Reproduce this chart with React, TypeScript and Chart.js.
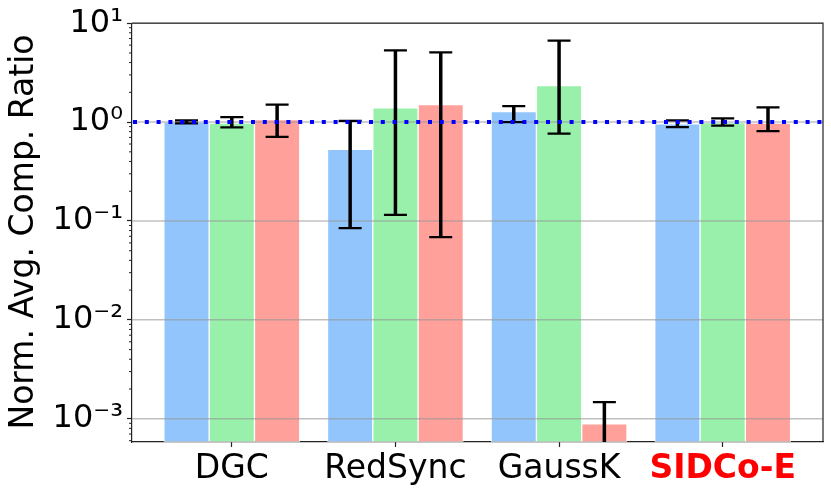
import { useEffect, useRef } from "react";
import { Chart, registerables } from "chart.js";

Chart.register(...registerables);

const categories = ["DGC", "RedSync", "GaussK", "SIDCo-E"];
const seriesLabels = ["Run 1", "Run 2", "Run 3"];
const seriesColors = ["#93c5fd", "#99f0aa", "#ffa09b"];

const blueValues = [1.0, 0.53, 1.28, 0.96];
const blueLow = [0.97, 0.0845, 1.0, 0.89];
const blueHigh = [1.04, 1.03, 1.45, 1.04];

const greenValues = [0.98, 1.39, 2.34, 0.99];
const greenLow = [0.885, 0.115, 0.763, 0.92];
const greenHigh = [1.12, 5.3, 6.68, 1.09];

const redValues = [1.06, 1.5, 0.00089, 0.98];
const redLow = [0.71, 0.0686, 0.0001, 0.81];
const redHigh = [1.5, 5.06, 0.00147, 1.41];

const yTickValues = [1e-3, 1e-2, 1e-1, 1, 10];
const referenceLine = 1;

const FONT = "'DejaVu Sans', sans-serif";
const SUP: Record<string, string> = {
  "-": "\u207b",
  "0": "\u2070",
  "1": "\u00b9",
  "2": "\u00b2",
  "3": "\u00b3",
  "4": "\u2074",
  "5": "\u2075",
};

function powLabel(v: number) {
  const e = Math.round(Math.log10(v));
  return "10" + String(e).split("").map((c) => SUP[c] ?? c).join("");
}

const overlay = {
  id: "overlay",
  afterDatasetsDraw(chart: any) {
    const { ctx, chartArea: a, scales } = chart;
    const y = scales.y;
    ctx.save();
    ctx.beginPath();
    ctx.rect(a.left, a.top, a.right - a.left, a.bottom - a.top);
    ctx.clip();

    // grid over bars
    ctx.strokeStyle = "rgba(150,150,150,0.6)";
    ctx.lineWidth = 1.5;
    yTickValues.forEach((v) => {
      const py = y.getPixelForValue(v);
      ctx.beginPath();
      ctx.moveTo(a.left, py);
      ctx.lineTo(a.right, py);
      ctx.stroke();
    });

    // error bars
    const lows = [blueLow, greenLow, redLow];
    const highs = [blueHigh, greenHigh, redHigh];
    ctx.strokeStyle = "#000";
    chart.data.datasets.forEach((_: any, i: number) => {
      const meta = chart.getDatasetMeta(i);
      meta.data.forEach((el: any, j: number) => {
        const yl = y.getPixelForValue(lows[i][j]);
        const yh = y.getPixelForValue(highs[i][j]);
        ctx.lineWidth = 3.5;
        ctx.beginPath();
        ctx.moveTo(el.x, yl);
        ctx.lineTo(el.x, yh);
        ctx.stroke();
        ctx.lineWidth = 2.2;
        [yl, yh].forEach((py) => {
          ctx.beginPath();
          ctx.moveTo(el.x - 11.5, py);
          ctx.lineTo(el.x + 11.5, py);
          ctx.stroke();
        });
      });
    });

    // dotted reference line
    const ry = y.getPixelForValue(referenceLine);
    ctx.strokeStyle = "#0000ff";
    ctx.lineWidth = 4;
    ctx.setLineDash([4, 7.8]);
    ctx.beginPath();
    ctx.moveTo(a.left + 1, ry);
    ctx.lineTo(a.right, ry);
    ctx.stroke();
    ctx.restore();

    // top / right spines
    ctx.save();
    ctx.strokeStyle = "#222";
    ctx.lineWidth = 1.2;
    ctx.beginPath();
    ctx.moveTo(a.left, a.top);
    ctx.lineTo(a.right, a.top);
    ctx.lineTo(a.right, a.bottom);
    ctx.stroke();

    // minor ticks on y axis
    ctx.lineWidth = 1;
    for (let d = -4; d <= 0; d++) {
      for (let k = 2; k <= 9; k++) {
        const v = k * Math.pow(10, d);
        if (v < y.min || v > y.max) continue;
        const py = y.getPixelForValue(v);
        ctx.beginPath();
        ctx.moveTo(a.left - 3, py);
        ctx.lineTo(a.left, py);
        ctx.stroke();
      }
    }

    // y axis title
    ctx.translate(33, 232);
    ctx.rotate(-Math.PI / 2);
    ctx.fillStyle = "#000";
    ctx.font = `33px ${FONT}`;
    ctx.textAlign = "center";
    ctx.textBaseline = "alphabetic";
    ctx.fillText("Norm. Avg. Comp. Ratio", 0, 0);
    ctx.restore();
  },
};

export default function App() {
  const canvasRef = useRef<HTMLCanvasElement | null>(null);

  useEffect(() => {
    if (!canvasRef.current) return;
    const seriesValues = [blueValues, greenValues, redValues];
    const chart = new Chart(canvasRef.current, {
      type: "bar",
      data: {
        datasets: seriesValues.map((vals, i) => ({
          label: seriesLabels[i],
          data: vals.map((v, j) => ({ x: j, y: v })),
          backgroundColor: seriesColors[i],
          borderColor: "rgba(255,255,255,0.7)",
          borderWidth: 1,
          borderSkipped: false,
          barThickness: 45.3,
        })),
      },
      options: {
        animation: false,
        responsive: true,
        maintainAspectRatio: false,
        layout: { padding: { top: 20, right: 8, left: 0, bottom: 0 } },
        plugins: {
          legend: { display: false },
          tooltip: { enabled: false },
        },
        scales: {
          x: {
            type: "linear",
            offset: false,
            min: -0.61,
            max: 3.613,
            afterBuildTicks: (scale: any) => {
              scale.ticks = categories.map((_, i) => ({ value: i }));
            },
            afterFit: (scale: any) => {
              scale.height = 49;
            },
            grid: {
              offset: false,
              drawOnChartArea: false,
              drawTicks: true,
              tickLength: 5,
              tickColor: "#222",
              tickWidth: 1.2,
            },
            border: { color: "#222", width: 1.2 },
            ticks: {
              autoSkip: false,
              maxRotation: 0,
              padding: 3,
              callback: (v: any) => categories[Number(v)] ?? "",
              color: (c: any) => (c.index === 3 ? "#ff0000" : "#000"),
              font: (c: any) => ({
                family: FONT,
                size: 33,
                weight: c.index === 3 ? "bold" : "normal",
              }),
            },
          },
          y: {
            type: "logarithmic",
            min: 5.82e-4,
            max: 10,
            afterBuildTicks: (scale: any) => {
              scale.ticks = yTickValues.map((v) => ({ value: v, major: true }));
            },
            afterFit: (scale: any) => {
              scale.width = 132;
            },
            grid: {
              drawOnChartArea: false,
              drawTicks: true,
              tickLength: 5,
              tickColor: "#222",
              tickWidth: 1.2,
            },
            border: { color: "#222", width: 1.2 },
            ticks: {
              padding: 4,
              color: "#000",
              font: { family: FONT, size: 32 },
              callback: (v: any) => powLabel(Number(v)),
            },
          },
        },
      },
      plugins: [overlay],
    });
    return () => chart.destroy();
  }, []);

  return (
    <div style={{ position: "fixed", left: 0, top: 0, width: 831, height: 491, background: "#fff" }}>
      <canvas ref={canvasRef} />
    </div>
  );
}
